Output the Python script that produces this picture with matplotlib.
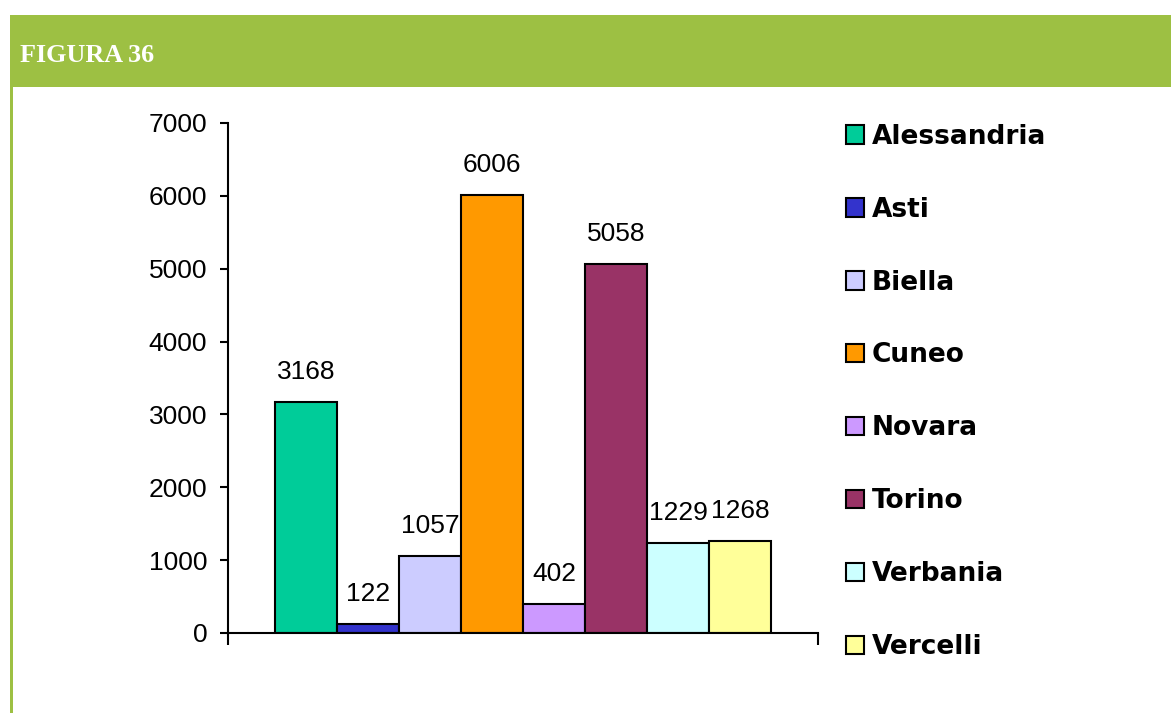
import matplotlib
matplotlib.use("Agg")
import matplotlib.pyplot as plt
from matplotlib.patches import Rectangle
from matplotlib.ticker import FixedLocator

categories = ["Alessandria", "Asti", "Biella", "Cuneo", "Novara", "Torino", "Verbania", "Vercelli"]
values = [3168, 122, 1057, 6006, 402, 5058, 1229, 1268]
colors = ["#00CC99", "#3333CC", "#CCCCFF", "#FF9900", "#CC99FF", "#993366", "#CCFFFF", "#FFFF99"]
yticks = [0, 1000, 2000, 3000, 4000, 5000, 6000, 7000]

W, H = 1171, 713
fig = plt.figure(figsize=(W / 100, H / 100), dpi=100)
fig.patch.set_facecolor("white")

green = "#9DC043"
# header bar
fig.patches.append(Rectangle((10 / W, 1 - 87 / H), 1 - 10 / W, 72 / H,
                             transform=fig.transFigure, facecolor=green, edgecolor="none"))
# left vertical line
fig.patches.append(Rectangle((10 / W, 0), 3 / W, 1 - 87 / H,
                             transform=fig.transFigure, facecolor=green, edgecolor="none"))
fig.text(20 / W, 1 - 56 / H, "FIGURA 36", color="white", fontsize=18.8, fontweight="bold",
         family="Liberation Serif", va="center", ha="left")

ax = fig.add_axes([228 / W, 1 - 633 / H, 590 / W, 510 / H])
x = list(range(len(categories)))
bars = ax.bar(x, values, width=1.0, color=colors, edgecolor="black", linewidth=1.5,
              label=categories)
gap = 47 / 62
ax.set_xlim(-0.5 - gap, len(categories) - 0.5 + gap)
ax.set_ylim(0, 7000)
ax.set_yticks(yticks)
ax.set_yticklabels([str(t) for t in yticks], family="Liberation Sans", fontsize=19)
ax.set_xticks([])
ax.xaxis.set_minor_locator(FixedLocator([-0.5 - gap, len(categories) - 0.5 + gap]))
ax.tick_params(axis="x", which="minor", direction="out", length=8.5, width=1.5, color="black")
ax.tick_params(axis="y", direction="out", length=6, width=1.5, pad=9)
for s in ["top", "right"]:
    ax.spines[s].set_visible(False)
for s in ["left", "bottom"]:
    ax.spines[s].set_linewidth(1.5)
ax.set_facecolor("none")

for xi, v in zip(x, values):
    ax.annotate(str(v), (xi, v), xytext=(0, 13), textcoords="offset points",
                ha="center", va="bottom", family="Liberation Sans", fontsize=19)

# legend
leg = fig.legend(handles=bars.patches, labels=categories, loc="upper left",
                 bbox_to_anchor=(835 / W, 1 - 113 / H), frameon=False,
                 prop={"family": "DejaVu Sans", "weight": "bold", "size": 19},
                 handlelength=0.7, handleheight=0.7, handletextpad=0.3,
                 labelspacing=1.78, borderaxespad=0)

fig.savefig("out.png", dpi=100)
